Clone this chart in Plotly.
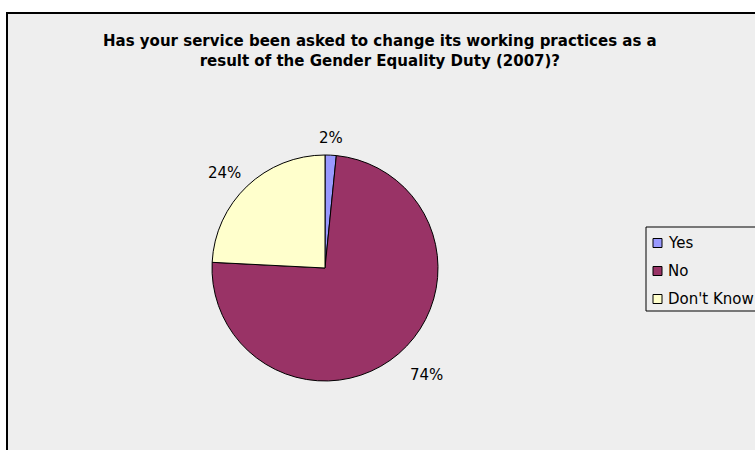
import math
import plotly.graph_objects as go

labels = ["Yes", "No", "Don't Know"]
values = [1.6, 74.2, 24.2]
colors = ["#9999FF", "#993366", "#FFFFCC"]
title_text = "Has your service been asked to change its working practices as a<br>result of the Gender Equality Duty (2007)?"

W, H = 755, 450
cx, cy, r = 325, 268, 113
FONT = "DejaVu Sans"

fig = go.Figure(go.Pie(
    labels=labels,
    values=values,
    sort=False,
    direction="clockwise",
    rotation=0,
    marker=dict(colors=colors, line=dict(color="black", width=1)),
    textinfo="none",
    domain=dict(x=[(cx - r) / W, (cx + r) / W], y=[1 - (cy + r) / H, 1 - (cy - r) / H]),
    hoverinfo="label+percent",
    showlegend=False,
))

shapes = [dict(type="rect", xref="paper", yref="paper", x0=7 / W, x1=1.2, y0=-0.2, y1=1 - 13 / H,
               fillcolor="#EEEEEE", line=dict(color="black", width=2), layer="below")]
annotations = [dict(text="<b>" + title_text + "</b>", xref="paper", yref="paper",
                    x=380 / W, y=1 - 51 / H, xanchor="center", yanchor="middle", showarrow=False,
                    font=dict(family=FONT, size=15, color="black"))]

# percentage labels outside the slices, placed along each slice's mid-angle
total = sum(values)
cum = 0.0
for v in values:
    mid = (cum + v / 2) / total * 2 * math.pi
    cum += v
    s, c = math.sin(mid), math.cos(mid)
    d = r + 14
    px, py = cx + d * s, cy - d * c
    xa = "center" if abs(s) < 0.3 else ("left" if s > 0 else "right")
    ya = "bottom" if c > 0 else "top"
    annotations.append(dict(text=f"{round(v / total * 100)}%", xref="paper", yref="paper",
                            x=px / W, y=1 - py / H, xanchor=xa, yanchor=ya, showarrow=False,
                            xshift=6 if xa == "right" else 0,
                            yshift=-8 if ya == "bottom" else 0,
                            font=dict(family=FONT, size=15, color="black")))

# legend box
lx, ly0, ly1 = 646, 227, 311
shapes.append(dict(type="rect", xref="paper", yref="paper", x0=lx / W, x1=1.05, y0=1 - ly1 / H, y1=1 - ly0 / H,
                   fillcolor="#EEEEEE", line=dict(color="black", width=1)))
for i, (lab, col) in enumerate(zip(labels, colors)):
    yc = 243 + 28 * i
    shapes.append(dict(type="rect", xref="paper", yref="paper", x0=653 / W, x1=662 / W,
                       y0=1 - (yc + 4.5) / H, y1=1 - (yc - 4.5) / H,
                       fillcolor=col, line=dict(color="black", width=1)))
    annotations.append(dict(text=lab, xref="paper", yref="paper", x=666 / W, y=1 - yc / H,
                            xanchor="left", yanchor="middle", showarrow=False,
                            font=dict(family=FONT, size=15, color="black")))

fig.update_layout(
    width=W, height=H,
    margin=dict(l=0, r=0, t=0, b=0, autoexpand=False),
    paper_bgcolor="white",
    plot_bgcolor="white",
    showlegend=False,
    shapes=shapes,
    annotations=annotations,
)

fig.write_html("out.html")
